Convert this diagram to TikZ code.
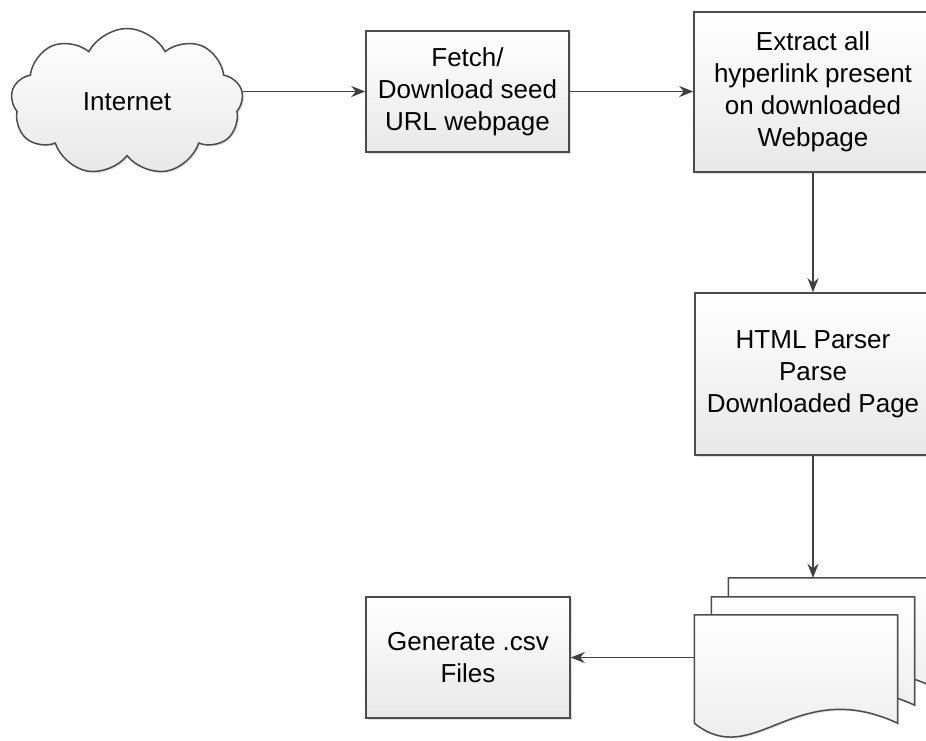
\documentclass[tikz,border=0pt]{standalone}
\usepackage{fontspec}
\setmainfont{Liberation Sans}
\usetikzlibrary{arrows.meta}
\usetikzlibrary{positioning}
\usetikzlibrary{shapes.symbols}
\usetikzlibrary{shadows}
\tikzset{procbox/.style = {draw = black!70, line width = 1.5pt, top color = white, bottom color = black!9,
    drop shadow = {opacity = 0.25, shadow xshift = 1.5pt, shadow yshift = -1.5pt},
    align = center, inner sep = 0, font = \fontsize{26}{32}\selectfont}}
\tikzset{docpage/.style = {minimum width = 203pt, minimum height = 108pt, inner sep = 0}}
\tikzset{arr/.style = {draw = black!75, line width = 1.6pt, -{Stealth[length = 14pt, width = 11pt]}}}

\begin{document}
\begin{tikzpicture}[x = 1pt, y = -1pt]
    \useasboundingbox (0, 0) rectangle (926, 740);
    \clip (0, 0) rectangle (926, 740);

    \node [procbox, cloud, cloud puffs = 9, cloud puff arc = 125, aspect = 1.6, cloud ignores aspect,
      minimum width = 232pt, minimum height = 147pt] (internet) at (127, 102) {Internet};
    \node [procbox, minimum width = 203pt, minimum height = 121pt] (fetch) at (467.5, 91.5)
      {Fetch/\\Download seed\\URL webpage};
    \node [procbox, minimum width = 238pt, minimum height = 160pt] (extract) at (813, 92)
      {Extract all\\hyperlink present\\on downloaded\\Webpage};
    \node [procbox, minimum width = 236pt, minimum height = 162pt] (parser) at (813, 374)
      {HTML Parser\\Parse\\Downloaded Page};
    \node [procbox, minimum width = 204pt, minimum height = 121pt] (gen) at (468, 657.5)
      {Generate .csv\\Files};

    % stack of pages
    \foreach \n/\x/\y in {page3/830/632, page2/813/651, page1/796/669} {
      \node [docpage] (\n) at (\x, \y) {};
      \draw [procbox] (\n.south west) -- (\n.north west) -- (\n.north east) -- (\n.south east)
        .. controls +(-103, -48) and +(60, 48) .. (\n.south west) -- cycle;
    }

    \draw [arr] (internet.east |- fetch.west) -- (fetch.west);
    \draw [arr] (fetch.east) -- (fetch.east -| extract.west);
    \draw [arr] (extract.south) -- (parser.north);
    \draw [arr] (parser.south) -- (parser.south |- page3.north);
    \draw [arr] (page1.west |- gen.east) -- (gen.east);
  \end{tikzpicture}
\end{document}
